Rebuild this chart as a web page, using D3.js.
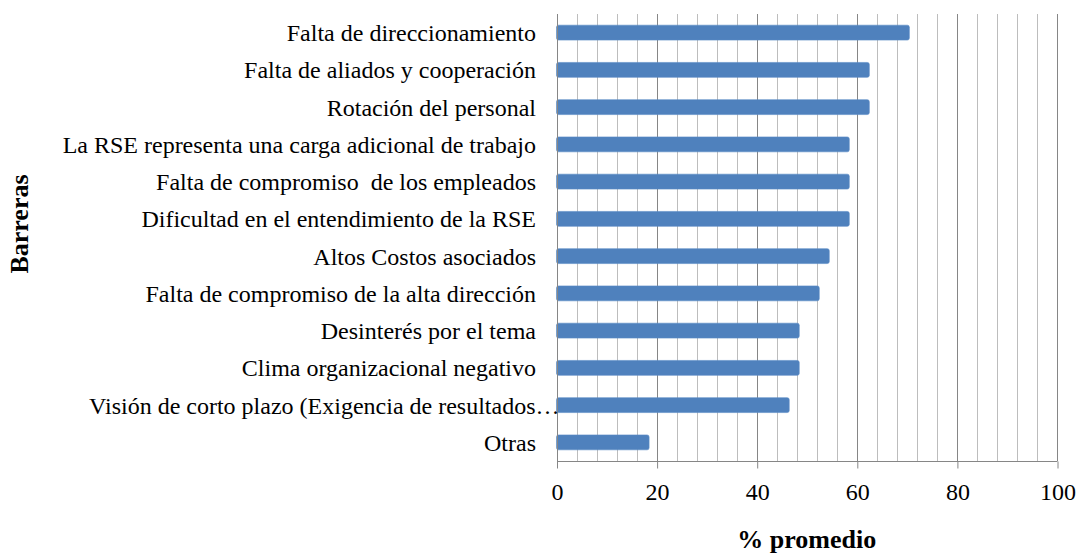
<!DOCTYPE html>
<html>
<head>
<meta charset="utf-8">
<script src="https://cdn.jsdelivr.net/npm/d3@7/dist/d3.min.js"></script>
<style>
  html, body { margin: 0; padding: 0; background: #fff; }
  svg text { font-family: "Liberation Serif", "Times New Roman", serif; white-space: pre; }
</style>
</head>
<body>
<svg id="chart" width="1078" height="553"></svg>
<script>
// Barreras para la implementación de RSE (% promedio)
const categories = [
  "Falta de direccionamiento",
  "Falta de aliados y cooperación",
  "Rotación del personal",
  "La RSE representa una carga adicional de trabajo",
  "Falta de compromiso  de los empleados",
  "Dificultad en el entendimiento de la RSE",
  "Altos Costos asociados",
  "Falta de compromiso de la alta dirección",
  "Desinterés por el tema",
  "Clima organizacional negativo",
  "Visión de corto plazo (Exigencia de resultados…",
  "Otras"
];
const values = [70.5, 62.5, 62.5, 58.5, 58.5, 58.5, 54.5, 52.5, 48.5, 48.5, 46.5, 18.5];
const majorTicks = [0, 20, 40, 60, 80, 100];
const minorStep = 4;
const xTitle = "% promedio";
const yTitle = "Barreras";

const FONT = '"Liberation Serif", "Times New Roman", serif';
const svg = d3.select("#chart");
const plot = { left: 556.5, right: 1057, top: 14, bottom: 461 };

const x = d3.scaleLinear().domain([0, 100]).range([plot.left, plot.right]);
const y = d3.scaleBand().domain(categories).range([plot.top, plot.bottom])
  .paddingInner(0.6).paddingOuter(0.3);

// vertical gridlines: light every 4 units, darker at the labelled ticks
const gridVals = d3.range(0, 100 + 0.001, minorStep);
svg.append("g").selectAll("line")
  .data(gridVals.filter(v => !majorTicks.includes(v)))
  .join("line")
  .attr("x1", d => Math.round(x(d)) + 0.5).attr("x2", d => Math.round(x(d)) + 0.5)
  .attr("y1", plot.top).attr("y2", plot.bottom)
  .attr("stroke", "#bdbdbd").attr("stroke-width", 1);
svg.append("g").selectAll("line")
  .data(majorTicks)
  .join("line")
  .attr("x1", d => Math.round(x(d)) + 0.5).attr("x2", d => Math.round(x(d)) + 0.5)
  .attr("y1", plot.top).attr("y2", plot.bottom)
  .attr("stroke", "#868686").attr("stroke-width", 1);

// bars
svg.append("g").selectAll("rect")
  .data(values)
  .join("rect")
  .attr("x", x(0))
  .attr("y", (d, i) => y(categories[i]))
  .attr("width", d => x(d) - x(0))
  .attr("height", y.bandwidth())
  .attr("rx", 2).attr("ry", 2)
  .attr("fill", "#4f81bd")
  .attr("stroke", "#5b8cc6").attr("stroke-width", 0.6);

// x axis
const xAxis = d3.axisBottom(x).tickValues(majorTicks).tickSize(7).tickPadding(14)
  .tickFormat(d3.format("d"));
const gx = svg.append("g")
  .attr("transform", `translate(0.5,${Math.round(plot.bottom) + 0.5})`)
  .call(xAxis);
gx.select(".domain").attr("stroke", "#868686").attr("d", `M${x(0)},0H${x(100)}`);
gx.selectAll(".tick line").attr("stroke", "#868686");
gx.selectAll(".tick text")
  .attr("fill", "#000")
  .attr("font-family", FONT)
  .style("font-family", FONT)
  .style("font-size", "24px");

// left axis line
svg.append("line")
  .attr("x1", Math.round(x(0)) + 0.5).attr("x2", Math.round(x(0)) + 0.5)
  .attr("y1", plot.top).attr("y2", plot.bottom + 1)
  .attr("stroke", "#868686");

// category labels
svg.append("g").selectAll("text")
  .data(categories)
  .join("text")
  .attr("x", d => d.endsWith("…") ? x(0) + 3 : x(0) - 20.5)
  .attr("y", d => y(d) + y.bandwidth() / 2)
  .attr("dy", "0.35em")
  .attr("text-anchor", "end")
  .style("font-family", FONT)
  .style("font-size", "24px")
  .attr("fill", "#000")
  .text(d => d);

// axis titles
svg.append("text")
  .attr("x", (plot.left + plot.right) / 2)
  .attr("y", 548)
  .attr("text-anchor", "middle")
  .style("font-family", FONT)
  .style("font-size", "26px").style("font-weight", "bold")
  .text(xTitle);

svg.append("text")
  .attr("transform", "translate(28,224) rotate(-90)")
  .attr("text-anchor", "middle")
  .style("font-family", FONT)
  .style("font-size", "26px").style("font-weight", "bold")
  .text(yTitle);
</script>
</body>
</html>
